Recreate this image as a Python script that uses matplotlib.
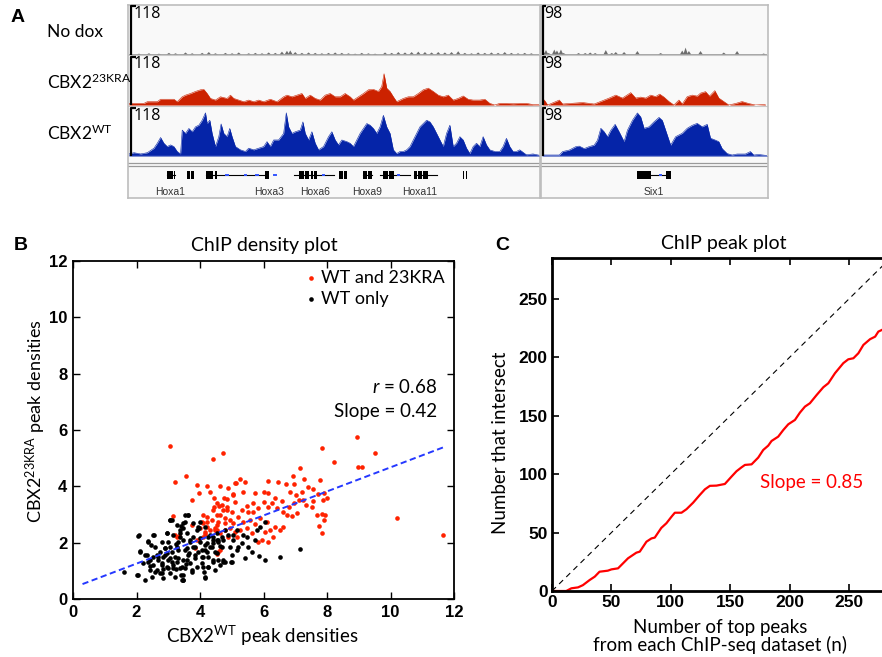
import matplotlib
matplotlib.use('Agg')
import matplotlib.pyplot as plt
import numpy as np
from matplotlib.patches import Rectangle

plt.rcParams['font.family'] = ['Liberation Sans', 'DejaVu Sans']
plt.rcParams['mathtext.fontset'] = 'custom'
plt.rcParams['mathtext.rm'] = 'Lato'
plt.rcParams['mathtext.it'] = 'Lato:italic'

LBL = 'Lato'

# ---------------- Panel A data (coverage tracks: (position kb, coverage)) ----------------
hoxa_wt = [(0, 5), (1.5, 8), (3.5, 5), (5.5, 8), (7.5, 19), (8.5, 31), (9.5, 45), (10.5, 31), (11.5, 23),
           (12.5, 27), (13.5, 23), (14.5, 11), (15.5, 5), (16, 63), (17, 55), (18, 67), (19, 59), (20, 71),
           (21, 75), (22, 87), (23, 105), (23.5, 79), (24.3, 87), (25, 55), (26, 23), (27, 47), (27.7, 78),
           (28.5, 55), (29.5, 47), (30.3, 67), (31, 47), (32, 23), (33.5, 15), (35, 11), (36, 19), (37.5, 15),
           (39, 19), (40.5, 23), (41.5, 35), (42.5, 23), (43.5, 39), (45, 39), (46.5, 55), (47.3, 105),
           (48, 71), (49, 55), (50, 59), (51.5, 63), (52.3, 83), (53, 55), (54, 39), (55, 59), (56, 31),
           (57, 15), (58.5, 23), (60, 47), (61, 59), (62, 39), (63, 27), (64, 39), (65.5, 35), (66.5, 31),
           (67.5, 23), (68.5, 39), (69.5, 55), (70.5, 67), (71.5, 79), (72.5, 75), (73.5, 67), (74.5, 55),
           (75.5, 71), (76.5, 99), (77.5, 71), (78.5, 55), (79.5, 15), (80.5, 6), (81.5, 11), (82.5, 11),
           (83.5, 15), (84.5, 23), (85.5, 39), (86.5, 55), (87.5, 71), (88.5, 79), (89.5, 87), (90.5, 83),
           (91.5, 71), (92.5, 55), (93.5, 39), (94.5, 23), (95.5, 55), (96.5, 75), (97.5, 23), (98.5, 31),
           (99.5, 47), (100.5, 39), (101.5, 19), (102.5, 6), (103.5, 23), (104.5, 31), (105.5, 23),
           (106.5, 47), (107.5, 27), (108.5, 15), (110, 11), (111.5, 11), (112.5, 23), (113.5, 43),
           (114.5, 23), (115.5, 11), (116.5, 11), (117.5, 15), (119.5, 3), (121.5, 5), (123.3, 2)]

hoxa_kra = [(0, 4), (4.5, 4), (5.5, 8), (8.5, 8), (9.5, 14), (13.5, 14), (14.5, 8), (16, 20), (17, 24),
            (18.5, 28), (20, 33), (21.5, 37), (22.5, 38), (23.5, 28), (24.5, 16), (26, 12), (27.5, 20),
            (29.5, 16), (30.5, 24), (31.5, 16), (33, 12), (34.5, 8), (36, 12), (37.5, 8), (39, 12), (40.5, 8),
            (42.5, 14), (44.5, 8), (46.5, 20), (47.5, 24), (49, 20), (50.5, 24), (52, 28), (53, 16),
            (54.5, 24), (56, 16), (57.5, 12), (59, 24), (60.5, 28), (62, 20), (63.5, 20), (65, 28),
            (66.5, 20), (67.5, 12), (69, 20), (70.5, 28), (72, 37), (73.5, 38), (75, 33), (76, 45),
            (76.7, 76), (77.5, 41), (78.5, 33), (79.5, 20), (80.5, 8), (81.5, 12), (82.5, 16), (84, 20),
            (85.5, 20), (87, 28), (88.5, 37), (90, 41), (91.5, 33), (93, 24), (94.5, 20), (96, 24),
            (97.5, 12), (99, 16), (100.5, 22), (102, 14), (103.5, 12), (105.5, 12), (107, 14), (108.5, 4),
            (110, 0), (111.5, 4), (113.5, 4), (115.5, 3), (117.5, 4), (119.5, 4), (121.5, 1), (123.3, 1)]

hoxa_nodox = [(3, 2), (6, 3), (9, 2), (12, 4), (14, 3), (17, 5), (19, 3), (22, 4), (24, 6), (26, 3), (29, 4),
              (31, 3), (33, 5), (36, 3), (38, 4), (40, 3), (42, 5), (44, 4), (46, 7), (47.5, 9), (48.5, 10),
              (50, 6), (52, 4), (54, 5), (56, 4), (58, 3), (60, 4), (62, 5), (64, 4), (66, 3), (68, 2),
              (70, 4), (72, 3), (74, 2), (77, 5), (79, 4), (81, 6), (83, 5), (85, 6), (87, 7), (89, 6),
              (91, 5), (93, 6), (95, 5), (97, 6), (99, 8), (101, 4), (103, 3), (105, 5), (107, 4), (109, 5),
              (111, 4), (113, 6), (115, 4), (117, 3), (119, 4), (121, 3)]

six1_wt = [(0, 2), (5.2, 2), (6.2, 9), (8.2, 12), (10.2, 19), (11.2, 20), (12.7, 15), (14.2, 19), (15.7, 22),
           (16.7, 32), (17.7, 56), (18.7, 49), (19.7, 39), (20.7, 52), (22, 64), (23.2, 49), (24.7, 29),
           (25.7, 52), (27.2, 72), (28.7, 87), (29.7, 79), (30.7, 56), (32.2, 59), (33.7, 69), (35.2, 78),
           (36.2, 72), (37.2, 52), (38.7, 22), (40.2, 39), (42.2, 46), (43.7, 56), (45.2, 62), (46.7, 66),
           (48.2, 59), (49.7, 64), (50.7, 36), (52.2, 32), (53.2, 29), (54.2, 15), (55.7, 5), (57.2, 2),
           (58.7, 4), (61.2, 4), (62.7, 9), (63.7, 2), (65.2, 3), (67.7, 1)]

six1_kra = [(0, 10), (0.7, 10), (1.7, 0), (5.2, 10), (6.2, 2), (8.2, 3), (12.2, 5), (15.7, 2), (18.7, 10),
            (20.2, 14), (22.2, 20), (24.2, 14), (26.7, 25), (28.2, 14), (29.7, 16), (31.2, 14), (32.7, 20),
            (34.2, 17), (35.4, 22), (36.7, 16), (38.2, 7), (39.7, 0), (41.2, 10), (42.2, 2), (43.7, 17),
            (45.2, 20), (46.7, 18), (47.7, 24), (49.2, 27), (50.4, 18), (52, 29), (53.2, 14), (54.7, 7),
            (56.2, 0), (58.2, 3), (60.2, 7), (62.2, 3), (64.2, 0), (67.2, 1)]

six1_nodox = [(0.5, 5), (1.2, 9), (2, 3), (3.7, 10), (4.5, 8), (5.7, 10), (6.5, 3), (11, 3), (13, 3),
              (14.5, 4), (16, 3), (19.2, 9), (21, 3), (22.2, 5), (24.7, 5), (28.7, 7), (35.7, 3), (42.2, 8),
              (43.2, 14), (44.2, 7), (47.7, 7), (54.7, 4), (58.7, 7), (66.7, 2)]

# gene models (kb): exons (start, end), introns (start, end)
hoxa_exons = [(11.5, 13.3), (13.5, 13.9), (17.5, 18.2), (18.7, 19.5), (23.3, 25.3), (25.8, 26.4),
              (41.0, 42.1), (51.2, 52.6), (53.0, 54.0), (54.7, 55.2), (55.7, 56.5), (63.3, 64.5),
              (64.8, 65.5), (70.5, 71.5), (71.9, 73.1), (76.5, 78.0), (78.3, 79.7), (85.8, 86.5),
              (86.8, 88.0), (88.5, 89.8), (100.3, 100.8), (101.2, 101.7)]
hoxa_introns = [(11.5, 13.9), (23.3, 41.5), (49.5, 61.5), (70.5, 73.1), (75.5, 84.5), (85.8, 92.5)]
hoxa_marks = [29.5, 35, 38.5, 44, 58.5, 81]
hoxa_names = ['Hoxa1', 'Hoxa3', 'Hoxa6', 'Hoxa9', 'Hoxa11']
hoxa_name_pos = [12.5, 42, 56, 71.5, 87.3]
six1_exons = [(28.5, 32.7), (37.4, 38.7)]
six1_introns = [(32.7, 37.4)]
six1_marks = [35.7]

track_names = ['No dox', 'CBX2$^{\\mathregular{23KRA}}$', 'CBX2$^{\\mathregular{WT}}$']
scale_left, scale_right = 118, 98

# ---------------- Panel B data (scatter points: (CBX2 WT, CBX2 23KRA)) ----------------
red_pts = [(3.06, 5.44), (3.20, 4.16), (3.57, 4.35), (4.42, 4.97), (4.71, 5.18), (3.14, 2.93), (3.76, 3.50),
           (3.91, 4.04), (3.97, 3.78), (4.22, 4.00), (4.32, 3.81), (4.64, 4.00), (4.43, 3.57),
           (8.93, 5.76), (7.83, 5.37), (9.51, 5.17), (8.22, 4.87), (8.99, 4.67), (9.11, 4.67), (10.19, 2.89),
           (11.66, 2.27), (7.78, 4.22), (7.28, 4.26), (7.41, 3.99), (7.57, 3.90), (7.15, 4.64), (7.20, 3.81),
           (7.73, 3.73), (7.91, 3.75), (7.99, 3.57), (7.88, 3.51), (7.55, 3.49), (7.25, 3.51), (7.34, 3.34),
           (7.52, 3.25), (7.70, 2.98), (7.83, 3.02), (7.93, 3.00), (7.91, 2.80), (7.76, 2.59), (7.85, 2.33),
           (5.12, 4.11), (5.26, 4.25), (5.42, 4.17), (4.89, 3.93), (4.76, 3.57), (5.05, 3.73), (5.10, 3.45),
           (5.34, 3.81), (5.73, 3.75), (5.66, 3.40), (5.47, 3.30), (6.00, 3.81), (6.15, 3.77), (6.15, 4.20),
           (6.47, 4.17), (6.71, 4.07), (6.92, 4.37), (6.96, 4.10), (6.83, 3.81), (7.02, 3.69), (7.12, 3.51),
           (6.36, 3.57), (6.26, 3.40), (6.57, 3.48), (6.44, 3.22), (6.15, 3.28), (6.00, 3.45), (5.84, 3.22),
           (5.68, 3.10), (5.52, 3.10), (5.31, 3.16), (5.21, 2.92), (5.00, 3.10), (4.84, 3.28), (4.68, 3.34),
           (4.52, 3.40), (4.42, 3.16), (4.63, 2.98), (4.79, 2.86), (4.94, 2.80), (5.05, 2.71), (5.36, 2.75),
           (5.57, 2.80), (5.73, 2.68), (5.89, 2.86), (6.10, 2.75), (6.20, 2.45), (6.36, 2.54), (6.52, 2.45),
           (6.62, 2.57), (6.31, 2.21), (6.05, 2.39), (5.94, 2.09), (5.84, 2.03), (6.15, 2.03), (4.21, 2.75),
           (4.10, 2.98), (4.37, 2.80), (4.52, 2.63), (4.47, 2.45), (4.31, 2.45), (4.16, 2.39), (4.63, 2.33),
           (4.79, 2.45), (4.94, 2.51), (5.10, 2.39), (5.26, 2.45), (5.47, 2.51), (5.63, 2.33), (4.08, 2.21),
           (5.15, 2.21), (4.89, 2.21), (6.75, 3.00), (6.90, 2.95), (7.05, 3.05), (6.60, 3.10), (6.95, 3.40),
           (6.80, 3.25), (4.45, 3.28), (4.61, 3.30), (4.84, 3.54), (4.73, 3.16), (4.23, 2.92), (4.52, 2.98),
           (4.84, 3.16), (4.07, 2.72), (4.58, 2.74), (4.21, 2.57), (4.79, 2.69), (4.47, 2.51), (4.00, 2.51),
           (4.16, 2.31), (3.26, 2.21), (3.35, 2.24), (3.90, 2.09), (4.55, 1.60), (4.63, 1.74), (3.76, 2.62),
           (5.10, 4.13), (5.05, 3.69), (4.11, 2.71), (4.53, 2.45), (4.58, 1.68), (3.21, 2.27), (3.84, 1.80)]

black_pts = [(2.53, 2.27), (2.37, 2.04), (2.11, 1.68), (2.32, 1.56), (2.42, 1.38), (2.21, 1.27), (2.53, 1.21),
             (2.06, 0.85), (2.27, 0.67), (2.48, 0.79), (2.63, 1.03), (2.79, 1.21), (2.69, 1.38), (2.84, 1.50),
             (2.95, 1.62), (3.05, 1.86), (3.00, 2.04), (3.16, 2.27), (2.95, 2.36), (3.11, 2.80), (3.26, 2.63),
             (3.47, 2.69), (3.53, 2.98), (3.63, 2.98), (3.37, 2.45), (3.47, 2.09), (3.32, 1.74), (3.21, 1.50),
             (3.11, 1.33), (2.95, 1.15), (2.79, 0.91), (2.58, 0.97), (2.42, 1.03), (3.05, 0.91), (3.21, 0.79),
             (2.84, 0.73), (3.37, 1.09), (3.47, 1.38), (3.63, 1.56), (3.58, 1.80), (3.68, 2.04), (3.79, 2.21),
             (3.84, 1.86), (3.95, 1.68), (3.84, 1.44), (3.68, 1.27), (3.53, 1.09), (3.47, 0.85), (3.42, 0.67),
             (3.74, 0.97), (3.90, 1.15), (4.05, 1.27), (4.10, 1.50), (4.21, 1.68), (4.31, 1.86), (4.42, 2.09),
             (4.00, 2.04), (4.16, 1.92), (4.47, 1.68), (4.42, 1.38), (4.26, 1.15), (4.16, 0.79), (4.47, 1.03),
             (4.63, 1.21), (4.73, 1.38), (4.58, 2.04), (4.68, 2.21), (4.52, 2.33), (3.26, 1.33), (2.90, 1.80),
             (2.74, 1.68), (2.58, 1.86), (2.79, 2.04), (2.63, 1.56), (3.00, 1.38), (3.16, 1.09), (3.32, 2.04),
             (3.11, 1.68), (3.58, 2.33), (3.37, 2.21), (3.90, 2.45), (4.00, 2.74), (4.16, 2.57),
             (7.15, 1.76), (6.52, 1.48), (6.05, 1.38), (5.87, 1.54), (5.63, 1.68), (5.42, 1.44), (5.21, 1.86),
             (5.00, 1.56), (4.79, 1.30), (4.98, 1.30), (5.31, 2.00), (5.52, 1.86), (5.36, 2.27), (5.73, 2.09),
             (5.89, 2.54), (6.05, 2.75), (5.78, 2.45), (5.47, 2.21), (4.63, 1.88), (4.52, 1.64), (4.42, 2.00),
             (4.26, 2.21), (4.40, 2.21), (4.58, 2.09), (4.73, 2.09), (4.89, 2.27), (5.05, 2.09), (5.15, 2.45),
             (4.16, 1.74), (4.05, 1.50), (4.26, 1.15), (4.42, 1.32), (4.13, 0.97),
             (3.04, 2.81), (3.41, 2.60), (3.62, 2.97), (2.08, 2.27), (2.02, 0.86), (2.10, 1.69), (1.62, 0.97),
             (4.15, 0.73), (3.46, 0.69), (3.52, 2.75), (3.78, 2.70), (3.96, 2.52), (2.54, 2.28), (2.36, 2.05),
             (2.06, 2.24), (2.27, 1.56), (2.35, 1.32), (2.43, 1.17), (2.69, 1.50), (2.74, 0.91), (2.79, 1.27),
             (2.90, 1.80), (3.00, 1.09), (2.95, 2.35), (3.06, 2.80), (3.16, 1.21), (3.27, 1.86), (3.32, 1.44),
             (3.37, 2.33), (3.42, 1.15), (3.48, 0.67), (3.53, 1.74), (3.58, 1.38), (3.48, 2.51), (3.69, 2.09),
             (3.74, 1.03), (3.79, 1.86), (3.84, 1.56), (3.95, 2.57), (4.00, 2.15), (4.05, 1.74), (4.11, 1.15),
             (4.21, 1.98), (4.26, 1.50), (4.32, 2.27), (4.37, 1.86), (4.53, 2.09), (4.58, 1.38), (4.68, 1.86),
             (4.74, 1.32), (4.79, 2.45), (4.95, 1.86), (5.00, 1.32), (5.05, 2.27), (5.16, 1.74),
             (2.45, 1.90), (2.52, 1.50), (2.85, 1.05), (3.05, 1.45), (3.25, 1.05), (3.40, 0.85), (3.55, 1.25),
             (3.65, 1.65), (3.25, 1.95), (2.90, 1.55)]

fit_x = [0.3, 11.7]
fit_y = [0.53, 5.40]

# ---------------- Panel C data ----------------
peak_curve = [(0, 0), (12, 0), (16.3, 2.3), (21.9, 3.1), (26, 5), (31.7, 9.4), (36, 12.3), (40, 16.5),
              (47, 17.4), (50, 18.5), (55.6, 19.4), (59.8, 23.7), (64, 28), (71, 32.8), (73.9, 33.7),
              (79.5, 42.2), (83.7, 45), (86.5, 45.7), (92, 54), (96.3, 58), (100.6, 63.6), (103.4, 67),
              (109, 67), (113.2, 70), (118.8, 75.6), (124.4, 82.2), (128.7, 87), (132.9, 90), (138.5, 90.2),
              (145.5, 91.6), (151.1, 97.9), (155.3, 102.5), (159.6, 105.9), (162.4, 107.9), (168, 108.4),
              (173.6, 114.2), (177.8, 120.7), (182, 124.4), (184.8, 128.4), (190.4, 132.1), (194.7, 137.8),
              (198.9, 142.7), (204.5, 146.4), (208.7, 152.7), (212.9, 157.8), (217.1, 160.7), (222.8, 167.8),
              (228.4, 174.4), (232.6, 177.8), (238.2, 186.4), (245.2, 195), (249.4, 198.3), (253.7, 199.2),
              (257.9, 203.5), (262.1, 210.6), (267.7, 215.5), (272, 217.7), (274.7, 222), (277.8, 223.5)]
diag = [0, 300]

W, H = 882, 657
fig = plt.figure(figsize=(8.82, 6.57), dpi=100)


def pax(l, t, w, h, **kw):
    return fig.add_axes([l / W, 1 - (t + h) / H, w / W, h / H], **kw)


def bare(ax):
    ax.set_xticks([])
    ax.set_yticks([])
    for s in ax.spines.values():
        s.set_visible(False)
    ax.patch.set_alpha(0)


def unzip(pairs):
    return [a for a, b in pairs], [b for a, b in pairs]


# ---------------- Panel A ----------------
boxes = [(128, 412, 123.3), (541, 227, 67.7)]
for (bl, bw, xmax) in boxes:
    fr = pax(bl, 5, bw, 193)
    fr.set_xticks([]); fr.set_yticks([])
    fr.set_facecolor('#f9f9f9')
    for s in fr.spines.values():
        s.set_color('#bdbdbd'); s.set_linewidth(1.2)
    fr.set_xlim(0, 1); fr.set_ylim(193, 0)
    for yy in [50, 100.5]:
        fr.axhline(yy, color='#c8c8c8', lw=0.8)
    for yy in [157.5, 160.5]:
        fr.axhline(yy, color='#9a9a9a', lw=0.9)

rows = [(6, 48.5), (56.5, 48.5), (107.5, 48.5)]
colors = ['#6e6e6e', '#cc2200', '#0524a8']
left_data = [hoxa_nodox, hoxa_kra, hoxa_wt]
right_data = [six1_nodox, six1_kra, six1_wt]

for i, (top, hgt) in enumerate(rows):
    for (bl, bw, xmax), data, sc in [(boxes[0], left_data[i], scale_left), (boxes[1], right_data[i], scale_right)]:
        ax = pax(bl + 1, top, bw - 2, hgt)
        bare(ax)
        ax.set_xlim(0, xmax)
        ax.set_ylim(0, sc)
        p, v = unzip(data)
        if i == 0:
            for pp, vv in zip(p, v):
                ax.fill([pp - 0.7, pp, pp + 0.7], [0, vv, 0], color=colors[i], lw=0)
            ax.axhline(0.6, color='#9a9a9a', lw=0.6)
        else:
            ax.fill_between(p, 0, v, color=colors[i], lw=0)
            ax.plot(p, v, color=colors[i], lw=0.4)
            if i == 2:
                ax.axhline(0.5, color='#7b8fe8', lw=1.0)
        # scale bar
        ax.plot([0.004, 0.004, 0.018], [0, 0.99, 0.99], transform=ax.transAxes, color='black', lw=1.6,
                clip_on=False, solid_capstyle='butt')
        ax.text(0.012, 1.0, str(sc), transform=ax.transAxes, ha='left', va='top', fontsize=11.5,
                family='Open Sans')

for i, name in enumerate(track_names):
    fig.text(47 / W, 1 - [32, 82, 133][i] / H, name, ha='left', va='center', fontsize=12.5, family=LBL)

for (bl, bw, xmax), exons, introns, marks, names, npos in [
        (boxes[0], hoxa_exons, hoxa_introns, hoxa_marks, hoxa_names, hoxa_name_pos),
        (boxes[1], six1_exons, six1_introns, six1_marks, ['Six1'], [33.6])]:
    g = pax(bl + 1, 167, bw - 2, 30)
    bare(g)
    g.set_xlim(0, xmax)
    g.set_ylim(30, 0)
    for a, b in introns:
        g.plot([a, b], [8, 8], color='black', lw=0.8)
    for m in marks:
        g.plot([m - 0.25, m + 0.25], [8, 8], color='#3355ff', lw=1.4)
    for a, b in exons:
        g.add_patch(Rectangle((a, 4), b - a, 8, color='black', lw=0))
    for nm, ps in zip(names, npos):
        g.text(ps, 25, nm, ha='center', va='center', fontsize=7.5, color='#333333', family='Liberation Sans')

# ---------------- Panel B ----------------
axb = pax(73, 261, 381, 338)
rx, ry = unzip(red_pts)
kx, ky = unzip(black_pts)
axb.scatter(rx, ry, s=11, color='#ff2200', lw=0, zorder=3, label='WT and 23KRA')
axb.scatter(kx, ky, s=11, color='black', lw=0, zorder=3, label='WT only')
axb.plot(fit_x, fit_y, color='#2538ff', lw=1.4, dashes=(3.2, 1.8), zorder=4)
axb.set_xlim(0, 12)
axb.set_ylim(0, 12)
axb.set_xticks(range(0, 13, 2))
axb.set_yticks(range(0, 13, 2))
axb.tick_params(direction='in', length=5, width=1, top=True, right=True, labelsize=12, pad=4)
for lb in axb.get_xticklabels() + axb.get_yticklabels():
    lb.set_fontweight('bold')
for s in axb.spines.values():
    s.set_linewidth(1.3)
axb.legend(loc='upper right', frameon=False, prop={'family': LBL, 'size': 13}, handletextpad=0.05,
           labelspacing=0.25, borderaxespad=0.1, scatterpoints=1, markerscale=1.0, handlelength=1.0)
axb.text(11.46, 7.53, '$\\it{r}$ = 0.68', ha='right', va='center', fontsize=13.5, family=LBL)
axb.text(11.46, 6.67, 'Slope = 0.42', ha='right', va='center', fontsize=13.5, family=LBL)
fig.text(264 / W, 1 - 246 / H, 'ChIP density plot', ha='center', va='center', fontsize=14, family=LBL)
fig.text(262 / W, 1 - 636 / H, 'CBX2$^{\\mathregular{WT}}$ peak densities', ha='center', va='center',
         fontsize=13.5, family=LBL)
fig.text(36 / W, 1 - 421 / H, 'CBX2$^{\\mathregular{23KRA}}$ peak densities', ha='center', va='center',
         rotation=90, fontsize=13, family=LBL)

# ---------------- Panel C ----------------
axc = pax(552, 258, 356.4, 333)
cx, cy = unzip(peak_curve)
axc.plot(diag, diag, color='black', lw=0.8, dashes=(5, 4))
axc.plot(cx, cy, color='#ff0000', lw=1.6)
axc.set_xlim(0, 300)
axc.set_ylim(0, 285)
axc.set_xticks(range(0, 251, 50))
axc.set_yticks(range(0, 251, 50))
axc.tick_params(direction='in', length=5, width=1.2, top=True, right=True, labelsize=12.5, pad=3)
for lb in axc.get_xticklabels() + axc.get_yticklabels():
    lb.set_fontweight('bold')
for s in axc.spines.values():
    s.set_linewidth(2.0)
axc.text(175, 92.5, 'Slope = 0.85', ha='left', va='center', color='#ff0000', fontsize=13.5, family=LBL)
fig.text(724 / W, 1 - 244 / H, 'ChIP peak plot', ha='center', va='center', fontsize=14, family=LBL)
fig.text(720 / W, 1 - 627 / H, 'Number of top peaks', ha='center', va='center', fontsize=13.5, family=LBL)
fig.text(720 / W, 1 - 645 / H, 'from each ChIP-seq dataset (n)', ha='center', va='center', fontsize=13.5,
         family=LBL)
fig.text(500 / W, 1 - 443 / H, 'Number that intersect', ha='center', va='center', rotation=90, fontsize=13.5,
         family=LBL)

# panel letters
for t, x, y in [('A', 18, 17), ('B', 21, 245), ('C', 502, 245)]:
    fig.text(x / W, 1 - y / H, t, ha='center', va='center', fontsize=14, fontweight='bold')

fig.savefig('out.png', dpi=100)
